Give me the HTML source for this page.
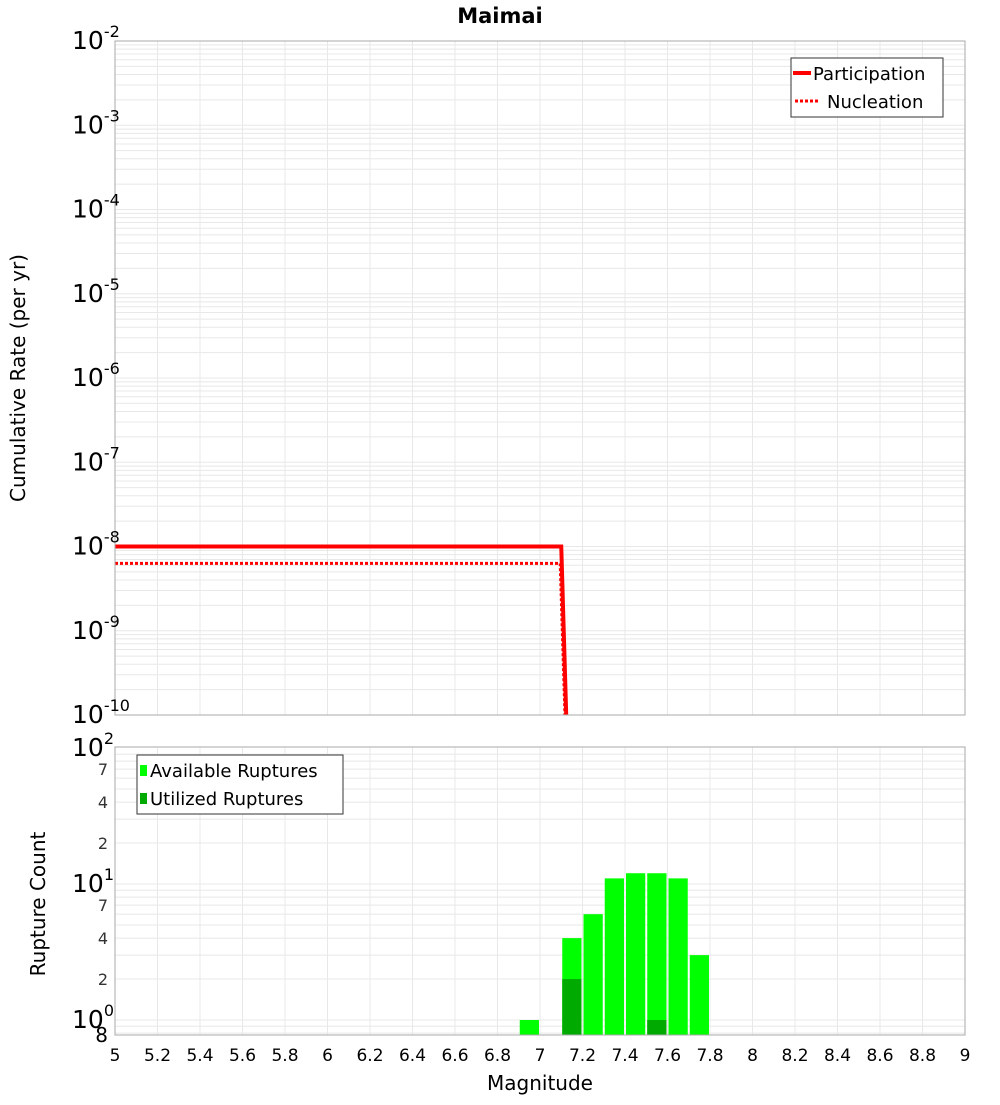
<!DOCTYPE html>
<html><head><meta charset="utf-8"><style>
body{margin:0;background:#fff;}
svg{font-family:"DejaVu Sans","Liberation Sans",sans-serif;}
</style></head><body>
<svg id="c" width="1000" height="1100" xmlns="http://www.w3.org/2000/svg">
<defs>
<clipPath id="clipTop"><rect x="115" y="41" width="850" height="674"/></clipPath>
<clipPath id="clipBot"><rect x="115" y="747" width="850" height="288"/></clipPath>
</defs>
<text x="500" y="23" text-anchor="middle" font-size="21" font-weight="bold">Maimai</text>
<g id="gridTop"></g>
<g id="gridBot"></g>
<g id="marks"></g>
<rect x="115" y="41" width="850" height="674" fill="none" stroke="#aaa"/>
<rect x="115" y="747" width="850" height="288" fill="none" stroke="#aaa"/>
<g id="labels"></g>
<text transform="translate(25,378) rotate(-90)" text-anchor="middle" font-size="20">Cumulative Rate (per yr)</text>
<text transform="translate(45,904) rotate(-90)" text-anchor="middle" font-size="20">Rupture Count</text>
<text x="540" y="1090" text-anchor="middle" font-size="20">Magnitude</text>
<g>
<rect x="791" y="58" width="152" height="59" fill="#fff" stroke="#333"/>
<line x1="793" y1="73" x2="811" y2="73" stroke="red" stroke-width="4"/>
<text x="813" y="80" font-size="18">Participation</text>
<line x1="795" y1="101" x2="820" y2="101" stroke="red" stroke-width="3" stroke-dasharray="3,2"/>
<text x="827" y="108" font-size="18">Nucleation</text>
</g>
<g>
<rect x="137" y="755" width="206" height="59" fill="#fff" stroke="#333"/>
<rect x="140" y="765" width="7" height="11" fill="#00ff00"/>
<text x="150" y="777" font-size="18">Available Ruptures</text>
<rect x="140" y="793" width="7" height="11" fill="#00aa00"/>
<text x="150" y="805" font-size="18">Utilized Ruptures</text>
</g>
</svg>
<script>
const partMag=[5,7.1,7.135];
const partRate=[1e-8,1e-8,1e-11];
const nuclMag=[5,7.095,7.13];
const nuclRate=[6.3e-9,6.3e-9,1e-11];
const binMags=[6.95,7.15,7.25,7.35,7.45,7.55,7.65,7.75];
const availCounts=[1,4,6,11,12,12,11,3];
const utilCounts=[0,2,0,0,0,1,0,0];
const xTicks=[5,5.2,5.4,5.6,5.8,6,6.2,6.4,6.6,6.8,7,7.2,7.4,7.6,7.8,8,8.2,8.4,8.6,8.8,9];
const topExps=[-10,-9,-8,-7,-6,-5,-4,-3,-2];
const botExps=[0,1,2];
const botMinorLabels=[2,4,7,20,40,70];

const NS="http://www.w3.org/2000/svg";
const X=m=>115+(m-5)/4*850;
const YT=v=>715-(Math.log10(v)+10)/8*674;
const YB=v=>1020-Math.log10(v)*136;
function mk(tag,attrs,parent,txt){const e=document.createElementNS(NS,tag);for(const k in attrs)e.setAttribute(k,attrs[k]);if(txt!==undefined)e.textContent=txt;parent.appendChild(e);return e;}
const gT=document.getElementById('gridTop'),gB=document.getElementById('gridBot'),marks=document.getElementById('marks'),lab=document.getElementById('labels');
xTicks.forEach(m=>{
 const l1=mk('line',{x1:X(m),x2:X(m),y1:41,y2:715,stroke:'#e8e8e8'},gT);
 
 
 const l2=mk('line',{x1:X(m),x2:X(m),y1:747,y2:1035,stroke:'#e8e8e8'},gB);
 
 
 const t=mk('text',{x:X(m),y:1061,'text-anchor':'middle','font-size':17},lab,String(m));
 
 
});
for(let e=-10;e<-2;e++)for(let k=1;k<10;k++){
 const y=YT(k*Math.pow(10,e));
 const l=mk('line',{x1:115,x2:965,y1:y,y2:y,stroke:'#e8e8e8'},gT);
 
 
}
for(let e=-1;e<2;e++)for(let k=1;k<10;k++){
 const v=k*Math.pow(10,e);const y=YB(v);
 if(y<747||y>1035)continue;
 const l=mk('line',{x1:115,x2:965,y1:y,y2:y,stroke:'#e8e8e8'},gB);
 
 
}
topExps.forEach(e=>{
 const y=YT(Math.pow(10,e));
 const t=mk('text',{x:72,y:y+8,'font-size':25},lab);
 
 
 mk('tspan',{},t,'10');
 mk('tspan',{dy:-12,'font-size':16},t,String(e));
});
botExps.forEach(e=>{
 const y=YB(Math.pow(10,e));
 const t=mk('text',{x:72,y:y+8,'font-size':25},lab);
 
 
 mk('tspan',{},t,'10');
 mk('tspan',{dy:-12,'font-size':16},t,String(e));
});
botMinorLabels.forEach(v=>{
 const k=v>=10?v/10:v;
 const t=mk('text',{x:108,y:YB(v)+6,'text-anchor':'end','font-size':16,fill:'#333'},lab,String(k));
 
 
});
const t8=mk('text',{x:108,y:1042,'text-anchor':'end','font-size':20},lab,'8');


const gl=mk('g',{'clip-path':'url(#clipTop)'},marks);
const p=mk('polyline',{points:partMag.map((m,i)=>X(m)+','+YT(partRate[i])).join(' '),fill:'none',stroke:'red','stroke-width':4},gl);


const n=mk('polyline',{points:nuclMag.map((m,i)=>X(m)+','+YT(nuclRate[i])).join(' '),fill:'none',stroke:'red','stroke-width':3,'stroke-dasharray':'3,2'},gl);


const gb=mk('g',{'clip-path':'url(#clipBot)'},marks);
const bw=850/40;
binMags.forEach((m,i)=>{
 const x0=X(m-0.05)+1,w=bw-2;
 if(availCounts[i]>0){const y=YB(availCounts[i]);
  const r=mk('rect',{x:x0,y:y,width:w,height:1035-y,fill:'#00ff00'},gb);
  
  }
 if(utilCounts[i]>0){const y=YB(utilCounts[i]);
  const r=mk('rect',{x:x0,y:y,width:w,height:1035-y,fill:'#00aa00'},gb);
  
  }
});
</script>
</body></html>
